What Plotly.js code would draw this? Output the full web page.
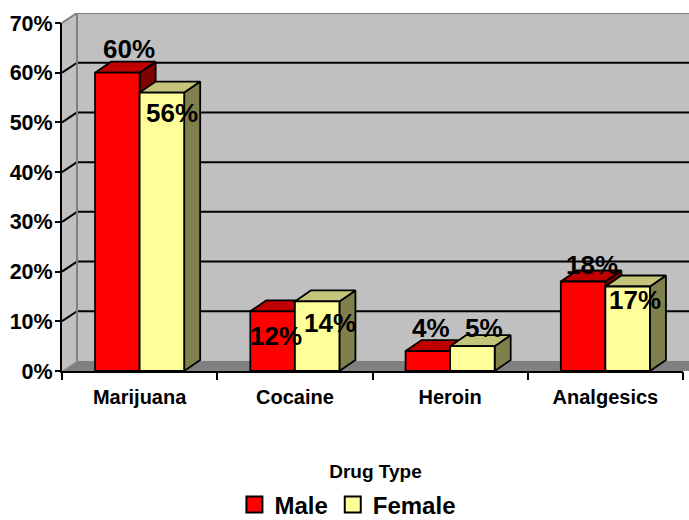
<!DOCTYPE html>
<html>
<head>
<meta charset="utf-8">
<script src="https://cdn.plot.ly/plotly-3.0.1.min.js"></script>
<style>html,body{margin:0;padding:0;background:#fff;}#chart{width:689px;height:520px;}</style>
</head>
<body>
<div id="chart"></div>
<script>
// ---- data ----
const categories = ['Marijuana', 'Cocaine', 'Heroin', 'Analgesics'];
const male = [60, 12, 4, 18];
const female = [56, 14, 5, 17];
const yTickVals = [0, 10, 20, 30, 40, 50, 60, 70];
const yTickText = ['0%', '10%', '20%', '30%', '40%', '50%', '60%', '70%'];
const seriesNames = ['Male', 'Female'];
const xTitle = 'Drug Type';

// ---- layout geometry (pixels) ----
const W = 689, H = 520;
const M = {l: 62, r: 0, t: 13, b: 149};
const plotW = W - M.l - M.r, plotH = H - M.t - M.b;
const catPx = 621 / categories.length;     // px per category
const pctPx = 348 / 70;                     // px per percent
const xMax = plotW / catPx, yMax = plotH / pctPx;
const ddx = 15 / catPx, ddy = 10 / pctPx;   // wall depth in data units
const bdx = 16 / catPx, bdy = 11 / pctPx;   // bar depth in data units
const barW = 0.287;                          // bar width in category units
const FONT = 'Liberation Sans, Arial, sans-serif';

// label placement (pixel shifts, layout only)
const labelShiftM = [24, -25, 23, 17];
const labelShiftF = [-20, -22, 18, -14];
const labelXShiftM = [12, 3, 3, 9];
const labelXShiftF = [10, 13, 12, 7];

const colors = {
  male: {front: '#ff0000', top: '#c00000', side: '#800000'},
  female: {front: '#ffff99', top: '#c4c47a', side: '#80804d'}
};

function faces(values, sideSign) {
  const fr = {x: [], y: []}, tp = {x: [], y: []}, sd = {x: [], y: []};
  values.forEach((v, i) => {
    const c = i + 0.5;
    const x0 = sideSign < 0 ? c - barW : c;
    const x1 = x0 + barW;
    fr.x.push(x0, x1, x1, x0, x0, null); fr.y.push(0, 0, v, v, 0, null);
    tp.x.push(x0, x1, x1 + bdx, x0 + bdx, x0, null); tp.y.push(v, v, v + bdy, v + bdy, v, null);
    sd.x.push(x1, x1 + bdx, x1 + bdx, x1, x1, null); sd.y.push(0, bdy, v + bdy, v, 0, null);
  });
  return {fr, tp, sd};
}

function poly(p, color) {
  return {x: p.x, y: p.y, type: 'scatter', mode: 'lines', fill: 'toself', fillcolor: color,
    line: {color: '#000', width: 1.8}, showlegend: false, hoverinfo: 'skip'};
}

const fm = faces(male, -1), ff = faces(female, 1);
const traces = [
  poly(fm.sd, colors.male.side), poly(fm.tp, colors.male.top), poly(fm.fr, colors.male.front),
  poly(ff.sd, colors.female.side), poly(ff.tp, colors.female.top), poly(ff.fr, colors.female.front),
  {x: [null], y: [null], type: 'scatter', mode: 'markers', name: seriesNames[0],
   marker: {symbol: 'square', size: 16, color: colors.male.front, line: {color: '#000', width: 2}}},
  {x: [null], y: [null], type: 'scatter', mode: 'markers', name: seriesNames[1],
   marker: {symbol: 'square', size: 16, color: colors.female.front, line: {color: '#000', width: 2}}}
];

// ---- walls, floor, gridlines ----
const nCat = categories.length;
const shapes = [];
shapes.push({type: 'rect', xref: 'x', yref: 'y', layer: 'below', x0: ddx, x1: xMax + 1, y0: ddy, y1: 70 + ddy,
  fillcolor: '#c0c0c0', line: {width: 0}});
shapes.push({type: 'path', xref: 'x', yref: 'y', layer: 'below',
  path: `M0,0 L${ddx},${ddy} L${ddx},${70 + ddy} L0,70 Z`, fillcolor: '#c0c0c0', line: {width: 0}});
shapes.push({type: 'path', xref: 'x', yref: 'y', layer: 'below',
  path: `M0,0 L${nCat + 1},0 L${nCat + 1 + ddx},${ddy} L${ddx},${ddy} Z`, fillcolor: '#808080', line: {width: 0}});
yTickVals.forEach(v => {
  if (v === 0) return;
  const col = v === 70 ? '#808080' : '#000';
  shapes.push({type: 'line', xref: 'x', yref: 'y', layer: 'below', x0: ddx, x1: xMax + 1, y0: v + ddy, y1: v + ddy,
    line: {color: col, width: 2}});
  shapes.push({type: 'line', xref: 'x', yref: 'y', layer: 'below', x0: 0, x1: ddx, y0: v, y1: v + ddy,
    line: {color: col, width: 2}});
});
shapes.push({type: 'line', xref: 'x', yref: 'y', layer: 'below', x0: ddx, x1: ddx, y0: ddy, y1: 70 + ddy,
  line: {color: '#808080', width: 2}});
shapes.push({type: 'line', xref: 'x', yref: 'y', layer: 'below', x0: 0, x1: ddx, y0: 0, y1: ddy,
  line: {color: '#a0a0a0', width: 1}});
// front axis lines (paper coords derived from axis ranges)
shapes.push({type: 'line', xref: 'paper', yref: 'paper', x0: -1 / plotW, x1: -1 / plotW, y0: -2 / plotH, y1: 70 / yMax,
  line: {color: '#000', width: 2}});
shapes.push({type: 'line', xref: 'paper', yref: 'paper', x0: -2 / plotW, x1: nCat / xMax, y0: -1 / plotH, y1: -1 / plotH,
  line: {color: '#000', width: 2}});

// ---- data labels ----
const annotations = [];
const labelFont = {family: FONT, size: 26, color: '#000', weight: 'bold'};
male.forEach((v, i) => annotations.push({x: i + 0.5 - barW / 2, y: v, xref: 'x', yref: 'y', text: v + '%',
  showarrow: false, xshift: labelXShiftM[i], yshift: labelShiftM[i], yanchor: 'middle', font: labelFont}));
female.forEach((v, i) => annotations.push({x: i + 0.5 + barW / 2, y: v, xref: 'x', yref: 'y', text: v + '%',
  showarrow: false, xshift: labelXShiftF[i], yshift: labelShiftF[i], yanchor: 'middle', font: labelFont}));

const layout = {
  width: W, height: H,
  margin: M,
  paper_bgcolor: '#fff', plot_bgcolor: '#fff',
  showlegend: true,
  legend: {orientation: 'h', xref: 'paper', x: 0.456, xanchor: 'center',
    yref: 'container', y: 15 / H, yanchor: 'middle',
    font: {family: FONT, size: 24, color: '#000', weight: 'bold'}, bgcolor: 'rgba(0,0,0,0)', itemclick: false},
  xaxis: {
    range: [0, xMax], showgrid: false, zeroline: false, showline: false, fixedrange: true,
    tickmode: 'array', tickvals: categories.map((c, i) => i + 0.5), ticktext: categories, ticks: '',
    ticklabelstandoff: 12,
    tickfont: {family: FONT, size: 20, color: '#000', weight: 'bold'},
    minor: {tickmode: 'array', tickvals: categories.map((c, i) => i).concat([nCat]), ticks: 'outside',
      ticklen: 8, tickwidth: 2, tickcolor: '#000', showgrid: false},
    title: {text: xTitle, standoff: 57, font: {family: FONT, size: 19, color: '#000', weight: 'bold'}},
    automargin: false
  },
  yaxis: {
    range: [0, yMax], showgrid: false, zeroline: false, showline: false, fixedrange: true,
    tickmode: 'array', tickvals: yTickVals, ticktext: yTickText, ticks: 'outside', ticklen: 6, tickwidth: 2,
    ticklabelstandoff: -2,
    tickcolor: '#000', tickfont: {family: FONT, size: 21.5, color: '#000', weight: 'bold'},
    automargin: false
  },
  shapes: shapes,
  annotations: annotations,
  hovermode: false
};

Plotly.newPlot('chart', traces, layout, {displayModeBar: false, staticPlot: true});
</script>
</body>
</html>
